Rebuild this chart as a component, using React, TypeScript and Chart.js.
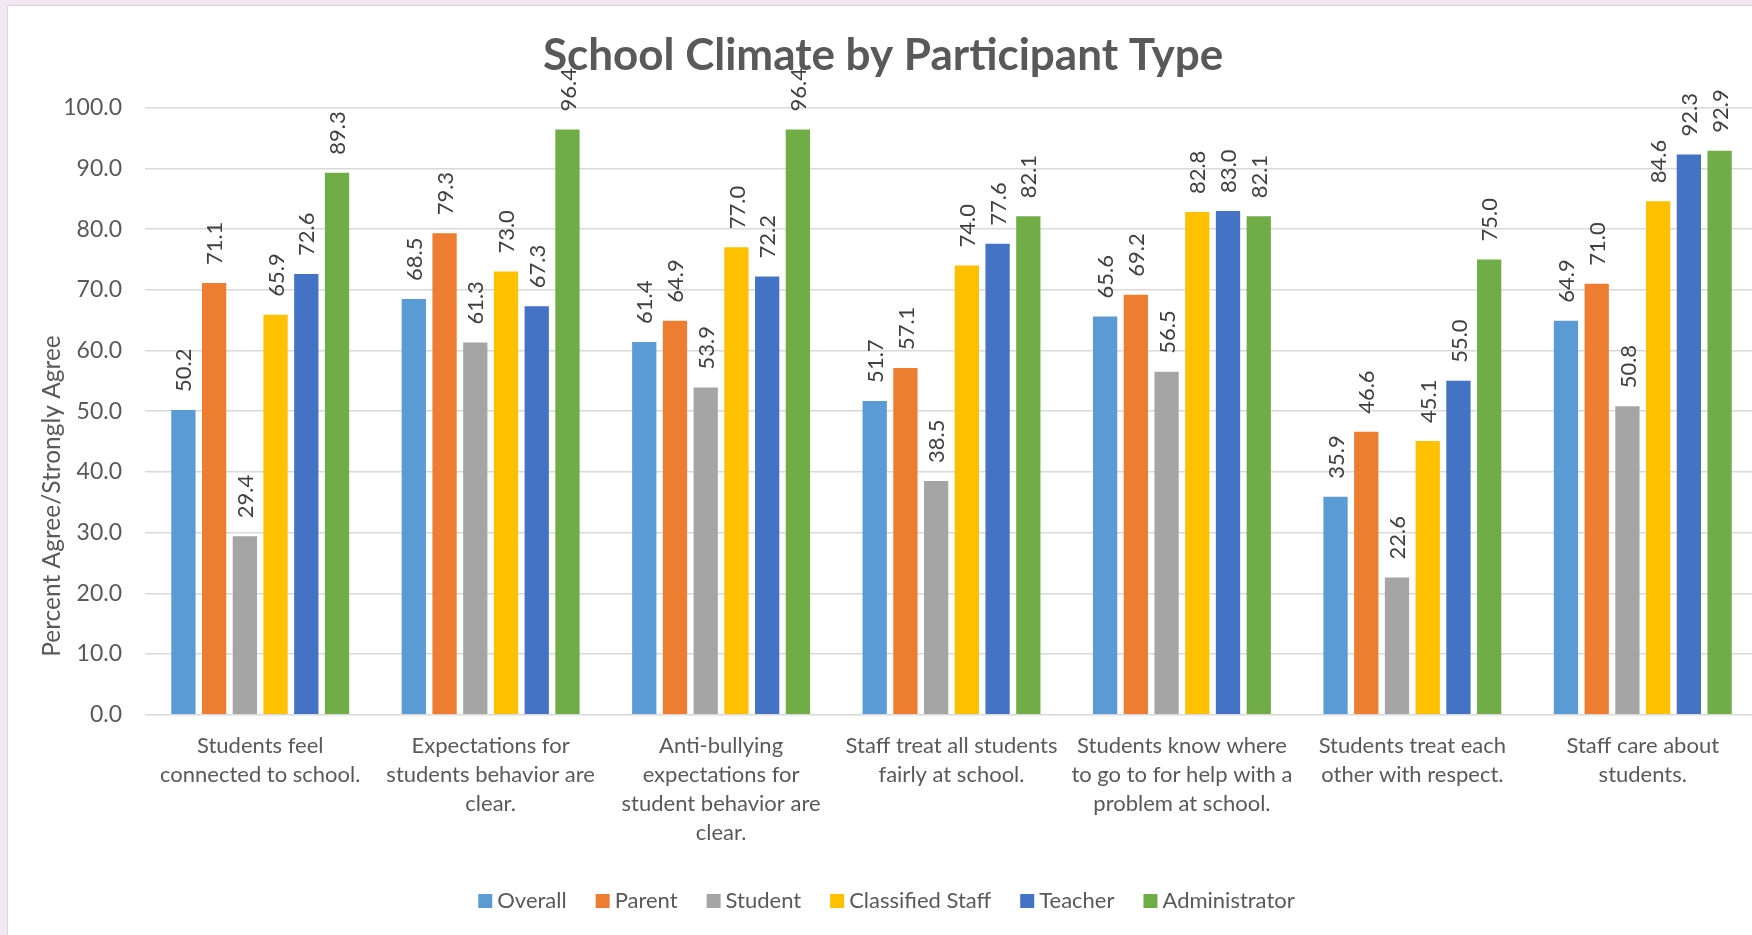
import React, { useEffect, useRef } from "react";
import { Chart, registerables } from "chart.js";

Chart.register(...registerables);

const categories: string[][] = [
  ["Students feel", "connected to school."],
  ["Expectations for", "students behavior are", "clear."],
  ["Anti-bullying", "expectations for", "student behavior are", "clear."],
  ["Staff treat all students", "fairly at school."],
  ["Students know where", "to go to for help with a", "problem at school."],
  ["Students treat each", "other with respect."],
  ["Staff care about", "students."],
];

const seriesNames = ["Overall", "Parent", "Student", "Classified Staff", "Teacher", "Administrator"];
const seriesColors = ["#5B9BD5", "#ED7D31", "#A5A5A5", "#FFC000", "#4472C4", "#70AD47"];

const overall = [50.2, 68.5, 61.4, 51.7, 65.6, 35.9, 64.9];
const parent = [71.1, 79.3, 64.9, 57.1, 69.2, 46.6, 71.0];
const student = [29.4, 61.3, 53.9, 38.5, 56.5, 22.6, 50.8];
const classifiedStaff = [65.9, 73.0, 77.0, 74.0, 82.8, 45.1, 84.6];
const teacher = [72.6, 67.3, 72.2, 77.6, 83.0, 55.0, 92.3];
const administrator = [89.3, 96.4, 96.4, 82.1, 82.1, 75.0, 92.9];

const seriesValues = [overall, parent, student, classifiedStaff, teacher, administrator];

const titleText = "School Climate by Participant Type";
const yAxisTitle = "Percent Agree/Strongly Agree";

const FONT = "Lato, 'Open Sans', sans-serif";

export default function App() {
  const ref = useRef<HTMLCanvasElement | null>(null);

  useEffect(() => {
    if (!ref.current) return;
    document.body.style.margin = "0";

    const decorPlugin = {
      id: "decor",
      afterDatasetsDraw(chart: any) {
        const ctx = chart.ctx;
        ctx.save();
        ctx.fillStyle = "#404040";
        ctx.font = `22px ${FONT}`;
        chart.data.datasets.forEach((ds: any, di: number) => {
          const meta = chart.getDatasetMeta(di);
          meta.data.forEach((el: any, i: number) => {
            const v = ds.data[i];
            ctx.save();
            ctx.translate(el.x + 1, el.y - 18);
            ctx.rotate(-Math.PI / 2);
            ctx.textAlign = "left";
            ctx.textBaseline = "middle";
            ctx.fillText(Number(v).toFixed(1), 0, 0);
            ctx.restore();
          });
        });
        ctx.restore();
      },
      afterDraw(chart: any) {
        const ctx = chart.ctx;
        ctx.save();
        ctx.fillStyle = "#595959";
        ctx.font = `bold 44px ${FONT}`;
        ctx.textAlign = "center";
        ctx.textBaseline = "alphabetic";
        ctx.fillText(titleText, 875, 64);
        ctx.save();
        ctx.font = `24.5px ${FONT}`;
        ctx.translate(44, 490);
        ctx.rotate(-Math.PI / 2);
        ctx.textAlign = "center";
        ctx.textBaseline = "middle";
        ctx.fillText(yAxisTitle, 0, 0);
        ctx.restore();
        ctx.font = `22px ${FONT}`;
        const box = 14;
        const gapBox = 5;
        const gapItem = 29;
        const items = chart.data.datasets.map((ds: any) => ({
          label: ds.label,
          color: ds.backgroundColor,
          w: ctx.measureText(ds.label).width,
        }));
        const total =
          items.reduce((s: number, it: any) => s + box + gapBox + it.w, 0) + gapItem * (items.length - 1);
        let x = 878.5 - total / 2;
        const cy = 895;
        items.forEach((it: any) => {
          ctx.fillStyle = it.color;
          ctx.fillRect(x, cy - box / 2, box, box);
          ctx.fillStyle = "#595959";
          ctx.textAlign = "left";
          ctx.textBaseline = "middle";
          ctx.fillText(it.label, x + box + gapBox, cy);
          x += box + gapBox + it.w + gapItem;
        });
        ctx.restore();
      },
    };

    const chart = new Chart(ref.current, {
      type: "bar",
      data: {
        labels: categories,
        datasets: seriesNames.map((name, i) => ({
          label: name,
          data: seriesValues[i],
          backgroundColor: seriesColors[i],
          borderWidth: 0,
          categoryPercentage: 0.8,
          barPercentage: 0.79,
        })),
      },
      options: {
        animation: false,
        responsive: false,
        devicePixelRatio: 1,
        layout: { padding: { left: 0, right: 50, top: 101.7, bottom: 70.3 } },
        plugins: {
          legend: { display: false },
          title: { display: false },
          tooltip: { enabled: false },
        },
        scales: {
          x: {
            grid: { display: false },
            border: { display: false },
            ticks: {
              color: "#595959",
              font: { family: FONT, size: 22, lineHeight: 1.32 },
              padding: 9,
              maxRotation: 0,
              autoSkip: false,
            },
            afterFit(scale: any) {
              scale.height = 150;
            },
          },
          y: {
            min: 0,
            max: 100,
            border: { display: false },
            grid: { color: "#d9d9d9", lineWidth: 1.5, drawTicks: false },
            ticks: {
              stepSize: 10,
              color: "#595959",
              font: { family: FONT, size: 23 },
              padding: 23,
              callback: (v: any) => Number(v).toFixed(1),
            },
            afterFit(scale: any) {
              scale.width = 137;
            },
          },
        },
      },
      plugins: [decorPlugin],
    });
    return () => chart.destroy();
  }, []);

  return (
    <div style={{ position: "fixed", inset: 0, background: "#f1e6f1", overflow: "hidden" }}>
      <div
        style={{
          position: "absolute",
          left: 7,
          top: 5,
          width: 1800,
          height: 940,
          background: "#ffffff",
          borderLeft: "1px solid #d9d9d9",
          borderTop: "1px solid #d9d9d9",
        }}
      >
        <canvas
          ref={ref}
          width={1800}
          height={929}
          style={{ position: "absolute", left: 0, top: 0, width: 1800, height: 929 }}
        />
      </div>
    </div>
  );
}
